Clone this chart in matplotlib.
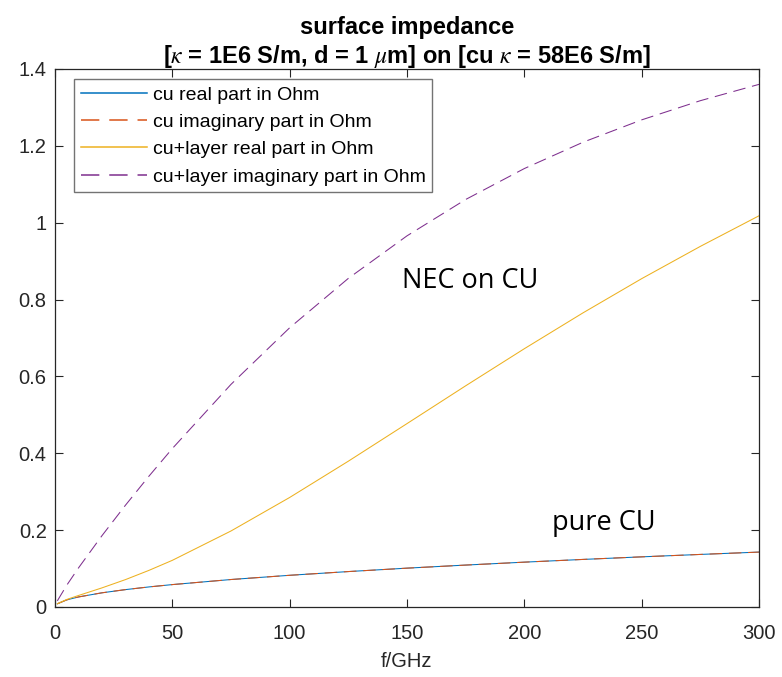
import matplotlib
matplotlib.use("Agg")
import matplotlib.pyplot as plt
from matplotlib.ticker import FuncFormatter

plt.rcParams["font.family"] = ["Liberation Sans", "DejaVu Sans"]
plt.rcParams["mathtext.fontset"] = "stix"

# frequency in GHz and impedance values in Ohm
freq = [1, 5, 10, 20, 30, 40, 50, 75, 100, 125, 150, 175, 200, 225, 250, 275, 300]
cu_real = [0.0083, 0.0185, 0.0261, 0.0369, 0.0452, 0.0522, 0.0583, 0.0715, 0.0825,
           0.0922, 0.1011, 0.1091, 0.1167, 0.1238, 0.1305, 0.1368, 0.1429]
cu_imag = [0.0083, 0.0185, 0.0261, 0.0369, 0.0452, 0.0522, 0.0583, 0.0715, 0.0825,
           0.0922, 0.1011, 0.1091, 0.1167, 0.1238, 0.1305, 0.1368, 0.1429]
layer_real = [0.0083, 0.0196, 0.0299, 0.0497, 0.0712, 0.0952, 0.1214, 0.1978, 0.2850,
              0.3794, 0.4772, 0.5756, 0.6721, 0.7654, 0.8544, 0.9384, 1.0180]
layer_imag = [0.0159, 0.0565, 0.1015, 0.1854, 0.2646, 0.3401, 0.4123, 0.5793, 0.7266,
              0.8551, 0.9658, 1.0604, 1.1409, 1.2094, 1.2676, 1.3175, 1.3600]

labels = ["cu real part in Ohm", "cu imaginary part in Ohm",
          "cu+layer real part in Ohm", "cu+layer imaginary part in Ohm"]

fig = plt.figure(figsize=(7.82, 6.77), dpi=100)
ax = fig.add_axes([0.0703, 0.1034, 0.9003, 0.7947])

ax.plot(freq, cu_real, color="#0072BD", lw=0.75, label=labels[0])
ax.plot(freq, cu_imag, color="#D95319", lw=0.75, dashes=(12, 6.5), label=labels[1])
ax.plot(freq, layer_real, color="#EDB120", lw=0.75, label=labels[2])
ax.plot(freq, layer_imag, color="#7E2F8E", lw=0.75, dashes=(12, 6.5), label=labels[3])

ax.set_xlim(0, 300)
ax.set_ylim(0, 1.4)
ax.set_xticks(range(0, 301, 50))
ax.set_yticks([0, 0.2, 0.4, 0.6, 0.8, 1.0, 1.2, 1.4])
ax.yaxis.set_major_formatter(FuncFormatter(lambda v, p: f"{v:g}"))

dark = "#262626"
for s in ax.spines.values():
    s.set_color(dark)
    s.set_linewidth(0.9)
ax.tick_params(direction="in", top=True, right=True, length=5.5, width=0.8,
               colors=dark, labelsize=14.5)
ax.tick_params(axis="x", pad=12)
ax.tick_params(axis="y", pad=6)

ax.set_xlabel("f/GHz", fontsize=14.5, color=dark, labelpad=7)
ax.set_title("surface impedance\n"
             r"[$\kappa$ = 1E6 S/m, d = 1 $\mu$m] on [cu $\kappa$ = 58E6 S/m]",
             fontsize=17, fontweight="bold", pad=4, linespacing=1.2)

leg = ax.legend(loc="upper left", bbox_to_anchor=(0.027, 0.981), borderaxespad=0,
                fontsize=14, handlelength=3.4, handletextpad=0.3,
                labelspacing=0.5, borderpad=0.35, fancybox=False, framealpha=1)
leg.get_frame().set_edgecolor("0.45")
leg.get_frame().set_linewidth(1.0)
for h in leg.get_lines():
    h.set_linewidth(1.1)

ax.text(177, 0.849, "NEC on CU", fontsize=19.5, family="Open Sans",
        ha="center", va="center")
ax.text(234, 0.218, "pure CU", fontsize=19.5, family="Open Sans",
        ha="center", va="center")

fig.savefig("out.png", dpi=100)
